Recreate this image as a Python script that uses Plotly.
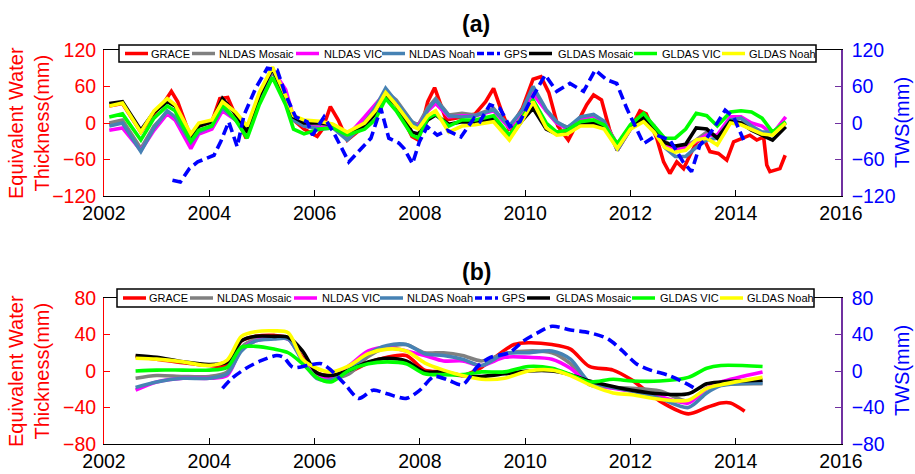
import plotly.graph_objects as go

# ---------------- Panel (a) data ----------------
T_A = [2002.10, 2002.35, 2002.70, 2002.95, 2003.20, 2003.35, 2003.65, 2003.80,
       2004.05, 2004.25, 2004.50, 2004.72, 2004.95, 2005.20, 2005.45, 2005.60,
       2005.80, 2006.10, 2006.35, 2006.62, 2006.95, 2007.15, 2007.35, 2007.55,
       2007.85, 2007.97, 2008.15, 2008.30, 2008.55, 2008.80, 2009.05, 2009.40,
       2009.70, 2009.95, 2010.15, 2010.40, 2010.60, 2010.80, 2011.05, 2011.30,
       2011.50, 2011.75, 2012.00, 2012.25, 2012.45, 2012.65, 2012.85, 2013.05,
       2013.25, 2013.45, 2013.65, 2013.90, 2014.10, 2014.30, 2014.50, 2014.70,
       2014.95]
nldas_mosaic_a = [0, 5, -42, -5, 18, 8, -28, -12, -5, 28, 5, -15, 40, 85, 40, 5,
                  -5, -5, -5, -20, 5, 25, 52, 38, 2, -3, 25, 40, 13, 16, 13, 24,
                  -8, 18, 57, 20, 0, -7, 5, 12, 2, -35, -8, 13, -5, -30, -40, -38,
                  -28, -15, -25, 5, 8, -8, -18, -15, 0]
nldas_vic_a = [-12, -8, -45, -12, 15, 5, -42, -18, -10, 20, 5, -10, 45, 88, 55, 10,
               -5, -8, -5, -22, 10, 30, 50, 30, 0, -5, 20, 32, 10, 12, 12, 20,
               -8, 20, 48, 20, 0, -10, 8, 12, 0, -35, -10, 12, -5, -35, -45, -40,
               -30, -20, -20, 10, 10, 0, -5, -18, 10]
nldas_noah_a = [-5, 0, -47, -8, 20, 10, -32, -15, -5, 25, 5, -12, 40, 88, 45, 5,
                -5, -10, -8, -28, 0, 25, 57, 35, 2, -8, 22, 38, 12, 10, 12, 22,
                -5, 22, 60, 22, 2, -8, 10, 14, 3, -45, -10, 12, -5, -40, -55, -55,
                -40, -28, -25, 5, 8, -5, -15, -15, 0]
gldas_mosaic_a = [32, 35, -12, 18, 35, 28, -22, -5, 2, 40, 15, -15, 45, 90, 40, 10,
                  0, 0, -3, -18, -5, 15, 45, 30, -15, -18, 5, 13, -2, 2, 0, 8,
                  -25, 5, 24, -10, -18, -12, 0, 0, -5, -36, -5, 8, -12, -32, -38, -35,
                  -8, -10, -25, 3, 0, -12, -20, -28, -6]
gldas_vic_a = [10, 15, -28, 8, 28, 20, -30, -12, -5, 30, 5, -25, 30, 75, 30, -10,
               -18, -10, -8, -20, -10, 5, 40, 20, -20, -25, 8, 15, -5, 5, 5, 12,
               -20, 10, 38, 0, -15, -12, 2, 5, -3, -34, -3, 16, -5, -25, -25, -10,
               16, 12, -5, 18, 20, 18, 8, -15, 2]
gldas_noah_a = [28, 33, -15, 20, 40, 30, -18, 0, 5, 35, 18, -5, 50, 92, 45, 12,
                5, 3, -2, -15, 0, 20, 50, 30, -5, -10, 12, 20, -15, -5, -3, 2,
                -28, 5, 35, -8, -20, -18, -5, -5, -10, -42, -10, 2, -15, -40, -48, -45,
                -28, -25, -36, 0, -3, -10, -18, -20, 0]

grace_a_t = [2002.10, 2002.35, 2002.70, 2002.95, 2003.15, 2003.28, 2003.40, 2003.65,
             2003.80, 2004.05, 2004.20, 2004.35, 2004.50, 2004.70, 2004.95, 2005.20,
             2005.45, 2005.60, 2005.80, 2006.05, 2006.15, 2006.30, 2006.45, 2006.62,
             2006.95, 2007.15, 2007.35, 2007.55, 2007.85, 2007.97, 2008.15, 2008.28,
             2008.50, 2008.80, 2009.05, 2009.25, 2009.40, 2009.55, 2009.70, 2009.95,
             2010.15, 2010.30, 2010.45, 2010.62, 2010.82, 2011.05, 2011.17, 2011.30,
             2011.45, 2011.60, 2011.75, 2012.00, 2012.18, 2012.30, 2012.50, 2012.63,
             2012.75, 2012.88, 2013.01, 2013.13, 2013.26, 2013.39, 2013.51, 2013.67,
             2013.83, 2013.96, 2014.15, 2014.27, 2014.40, 2014.53, 2014.59, 2014.65,
             2014.84, 2014.94]
grace_a = [28, 32, -15, 15, 35, 52, 35, -25, -5, 2, 40, 42, 12, -25, 40, 85,
           50, 5, -10, -22, -10, 27, 5, -28, -5, 20, 45, 30, -22, -28, 35, 58,
           5, 10, 15, 35, 57, 20, -12, 25, 72, 76, 50, -5, -28, 10, 30, 46,
           38, -10, -45, -10, 20, 15, -25, -64, -83, -64, -75, -53, -31, -25, -47, -50,
           -61, -31, -25, -20, -28, -23, -69, -80, -75, -53]

gps_a_t = [2003.30, 2003.45, 2003.62, 2003.78, 2004.09, 2004.22, 2004.37, 2004.53,
           2004.66, 2004.88, 2005.10, 2005.29, 2005.45, 2005.64, 2005.86, 2005.96,
           2006.18, 2006.37, 2006.65, 2006.88, 2007.07, 2007.26, 2007.41, 2007.60,
           2007.70, 2007.86, 2007.99, 2008.14, 2008.33, 2008.52, 2008.78, 2009.03,
           2009.14, 2009.33, 2009.52, 2009.71, 2009.90, 2010.09, 2010.38, 2010.60,
           2010.85, 2011.11, 2011.33, 2011.55, 2011.74, 2011.93, 2012.12, 2012.25,
           2012.50, 2012.75, 2013.00, 2013.16, 2013.32, 2013.45, 2013.64, 2013.80,
           2013.96, 2014.15]
gps_a = [-94, -97, -75, -64, -53, -30, 2, -39, 13, 57, 90, 87, 46, 10, 2, -20,
         10, -17, -64, -42, -25, 24, -25, -33, -42, -67, -31, -6, -20, -12, -23, 8,
         2, 30, 24, -6, 2, 35, 79, 52, 65, 52, 87, 71, 65, 24, -9, -34,
         -20, -28, -64, -80, -36, -25, -1, 21, 10, -28]

# ---------------- Panel (b) data ----------------
T_B = [2002.60, 2003.00, 2003.50, 2004.00, 2004.34, 2004.61, 2004.88, 2005.23,
       2005.50, 2005.77, 2006.04, 2006.31, 2006.66, 2007.02, 2007.38, 2007.74,
       2008.09, 2008.45, 2008.81, 2009.17, 2009.61, 2010.06, 2010.51, 2010.86,
       2011.22, 2011.67, 2012.03, 2012.56, 2013.10, 2013.45, 2013.72, 2014.51]
nldas_mosaic_b = [-8, -5, -6, -6, -1, 26, 35, 37, 35, 13, -6, -9, -3, 16, 26, 29,
                  20, 20, 17, 11, 19, 22, 20, 8, -15, -18, -19, -22, -33, -19, -15, -14]
nldas_vic_b = [-21, -12, -8, -8, -5, 24, 33, 36, 35, 13, -5, -8, 6, 22, 26, 22,
               17, 11, 11, 6, 15, 15, 13, 3, -14, -19, -22, -28, -35, -19, -12, -1]
nldas_noah_b = [-18, -12, -8, -8, -3, 22, 33, 35, 35, 11, -8, -10, 1, 19, 28, 29,
                19, 17, 13, 6, 19, 20, 22, 13, -12, -18, -22, -30, -40, -24, -16, -13]
gldas_mosaic_b = [17, 15, 10, 7, 10, 33, 38, 38, 37, 22, -2, -5, 1, 10, 14, 11,
                  -1, -1, -5, -6, -3, 0, 0, -4, -11, -17, -21, -25, -25, -14, -12, -10]
gldas_vic_b = [0, 1, 1, 1, 4, 26, 27, 24, 20, 8, -7, -12, 1, 8, 10, 8,
               -3, -4, -4, -1, -1, 5, 3, -4, -12, -9, -11, -11, -7, 3, 6, 5]
gldas_noah_b = [14, 13, 10, 6, 12, 38, 43, 44, 42, 13, 3, -1, 6, 19, 24, 22,
                9, 1, -5, -9, -8, 0, 1, -5, -15, -24, -26, -31, -32, -19, -15, -7]

grace_b_t = [2002.60, 2003.00, 2003.50, 2004.00, 2004.34, 2004.61, 2004.88, 2005.23,
             2005.50, 2005.77, 2006.04, 2006.31, 2006.66, 2007.02, 2007.38, 2007.74,
             2008.09, 2008.45, 2008.81, 2009.17, 2009.52, 2009.79, 2010.06, 2010.51,
             2010.86, 2011.22, 2011.67, 2012.03, 2012.56, 2013.10, 2013.45, 2013.72,
             2013.90, 2014.17]
grace_b = [16, 13, 9, 6, 6, 33, 38, 39, 36, 15, -2, -5, -1, 9, 15, 17,
           1, -1, -5, 4, 19, 29, 31, 29, 24, 5, 1, -10, -33, -47, -40, -35,
           -35, -44]

gps_b_t = [2004.25, 2004.43, 2004.70, 2004.97, 2005.28, 2005.41, 2005.59, 2005.86,
           2006.13, 2006.31, 2006.57, 2006.84, 2007.11, 2007.38, 2007.74, 2008.00,
           2008.27, 2008.54, 2008.81, 2009.08, 2009.34, 2009.70, 2009.97, 2010.24,
           2010.51, 2010.86, 2011.22, 2011.58, 2011.85, 2012.11, 2012.38, 2012.74,
           2013.10, 2013.28]
gps_b = [-19, -8, 3, 11, 17, 15, 4, 6, 8, 1, -14, -30, -21, -25, -30, -21,
         -6, -10, -15, 4, 15, 20, 33, 42, 49, 45, 42, 35, 22, 8, 1, -5,
         -15, -21]

NAMES = ["GRACE", "NLDAS Mosaic", "NLDAS VIC", "NLDAS Noah", "GPS",
         "GLDAS Mosaic", "GLDAS VIC", "GLDAS Noah"]
COLORS = ["#FF0000", "#808080", "#FF00FF", "#4682B4", "#0000FF",
          "#000000", "#00FF00", "#FFFF00"]
X_TICKS = [2002, 2004, 2006, 2008, 2010, 2012, 2014, 2016]

FONT = "Liberation Sans, Arial, Helvetica, sans-serif"
W, H = 915, 474
LW = 3.6
GPS_DASH = "10px,5px"

fig = go.Figure()

panels = [
    dict(x="x", y="y", y2="y2", shape="linear",
         series=[(grace_a_t, grace_a), (T_A, nldas_mosaic_a), (T_A, nldas_vic_a),
                 (T_A, nldas_noah_a), (gps_a_t, gps_a), (T_A, gldas_mosaic_a),
                 (T_A, gldas_vic_a), (T_A, gldas_noah_a)]),
    dict(x="x2", y="y3", y2="y4", shape="spline",
         series=[(grace_b_t, grace_b), (T_B, nldas_mosaic_b), (T_B, nldas_vic_b),
                 (T_B, nldas_noah_b), (gps_b_t, gps_b), (T_B, gldas_mosaic_b),
                 (T_B, gldas_vic_b), (T_B, gldas_noah_b)]),
]

for p in panels:
    for i, (tt, vv) in enumerate(p["series"]):
        is_gps = NAMES[i] == "GPS"
        line = dict(color=COLORS[i], width=LW, dash=GPS_DASH if is_gps else "solid",
                    shape=p["shape"])
        if p["shape"] == "spline":
            line["smoothing"] = 0.8
        fig.add_trace(go.Scatter(
            x=tt, y=vv, mode="lines", name=NAMES[i], line=line,
            xaxis=p["x"], yaxis=p["y2"] if is_gps else p["y"], showlegend=False,
        ))

xd = [104 / W, 841 / W]
ya = [1 - 196 / H, 1 - 50 / H]
yb = [1 - 444 / H, 1 - 298 / H]

def xax(anchor):
    return dict(domain=xd, range=[2002, 2016], tickmode="array", tickvals=X_TICKS,
                ticks="inside", ticklen=6, tickcolor="black", automargin=False,
                showline=True, linecolor="black", linewidth=1, mirror=True,
                showgrid=False, zeroline=False, anchor=anchor,
                tickfont=dict(family=FONT, size=19.5, color="black"))

def yleft(dom, rng, dt, anchor):
    return dict(domain=dom, range=rng, dtick=dt, tick0=0, ticks="inside", ticklen=6,
                tickcolor="#FF0000", showline=True, linecolor="#FF0000", linewidth=1,
                showgrid=False, zeroline=False, anchor=anchor, ticklabelstandoff=3,
                automargin=False,
                tickfont=dict(family=FONT, size=19.5, color="#FF0000"))

def yright(rng, dt, anchor, overlay):
    return dict(range=rng, dtick=dt, tick0=0, ticks="inside", ticklen=6,
                tickcolor="#7030A0", showline=True, linecolor="#7030A0", linewidth=1.5,
                showgrid=False, zeroline=False, anchor=anchor, overlaying=overlay,
                side="right", ticklabelstandoff=5, automargin=False,
                tickfont=dict(family=FONT, size=19.5, color="#0000FF"))

shapes = []
annotations = []

# Panel titles
for txt, yc in [("<b>(a)</b>", 24), ("<b>(b)</b>", 272)]:
    annotations.append(dict(text=txt, x=476 / W, y=1 - yc / H, xref="paper", yref="paper",
                            showarrow=False, font=dict(family=FONT, size=23, color="black"),
                            xanchor="center", yanchor="middle"))

# Axis titles
for yc in [123, 371]:
    annotations.append(dict(text="Equivalent Water<br>Thickness(mm)", x=29 / W, y=1 - yc / H,
                            xref="paper", yref="paper", showarrow=False, textangle=-90,
                            font=dict(family=FONT, size=20, color="#FF0000"),
                            xanchor="center", yanchor="middle"))
    annotations.append(dict(text="TWS(mm)", x=902 / W, y=1 - yc / H,
                            xref="paper", yref="paper", showarrow=False, textangle=-90,
                            font=dict(family=FONT, size=20, color="#0000FF"),
                            xanchor="center", yanchor="middle"))

# Legends (one per panel), drawn as a boxed row of line samples and labels
LINE_X0 = [125, 192, 296, 382, 477, 529, 634, 722]
TEXT_X0 = [150, 218, 323, 408, 503, 557, 661, 748]
for dx, y0, y1 in [(0, 45, 62), (-2, 289, 307)]:
    shapes.append(dict(type="rect", xref="paper", yref="paper",
                       x0=(119 + dx) / W, x1=(816 + dx) / W, y0=1 - y1 / H, y1=1 - y0 / H,
                       line=dict(color="black", width=1.5), fillcolor="white", layer="above"))
    yc = (y0 + y1) / 2
    for i in range(len(NAMES)):
        is_gps = NAMES[i] == "GPS"
        shapes.append(dict(type="line", xref="paper", yref="paper",
                           x0=(LINE_X0[i] + dx) / W, x1=(LINE_X0[i] + dx + 23) / W,
                           y0=1 - yc / H, y1=1 - yc / H, layer="above",
                           line=dict(color=COLORS[i], width=3.5,
                                     dash="7px,3px" if is_gps else "solid")))
        annotations.append(dict(text=NAMES[i], x=(TEXT_X0[i] + dx) / W, y=1 - yc / H,
                                xref="paper", yref="paper", showarrow=False,
                                xanchor="left", yanchor="middle", borderpad=0,
                                font=dict(family=FONT, size=11, color="black")))

fig.update_layout(
    width=W, height=H, margin=dict(l=0, r=0, t=0, b=0, autoexpand=False),
    paper_bgcolor="white", plot_bgcolor="white",
    font=dict(family=FONT),
    xaxis=xax("y"),
    xaxis2=xax("y3"),
    yaxis=yleft(ya, [-120, 120], 60, "x"),
    yaxis2=yright([-120, 120], 60, "x", "y"),
    yaxis3=yleft(yb, [-80, 80], 40, "x2"),
    yaxis4=yright([-80, 80], 40, "x2", "y3"),
    shapes=shapes,
    annotations=annotations,
    showlegend=False,
)

fig.write_html("out.html")
